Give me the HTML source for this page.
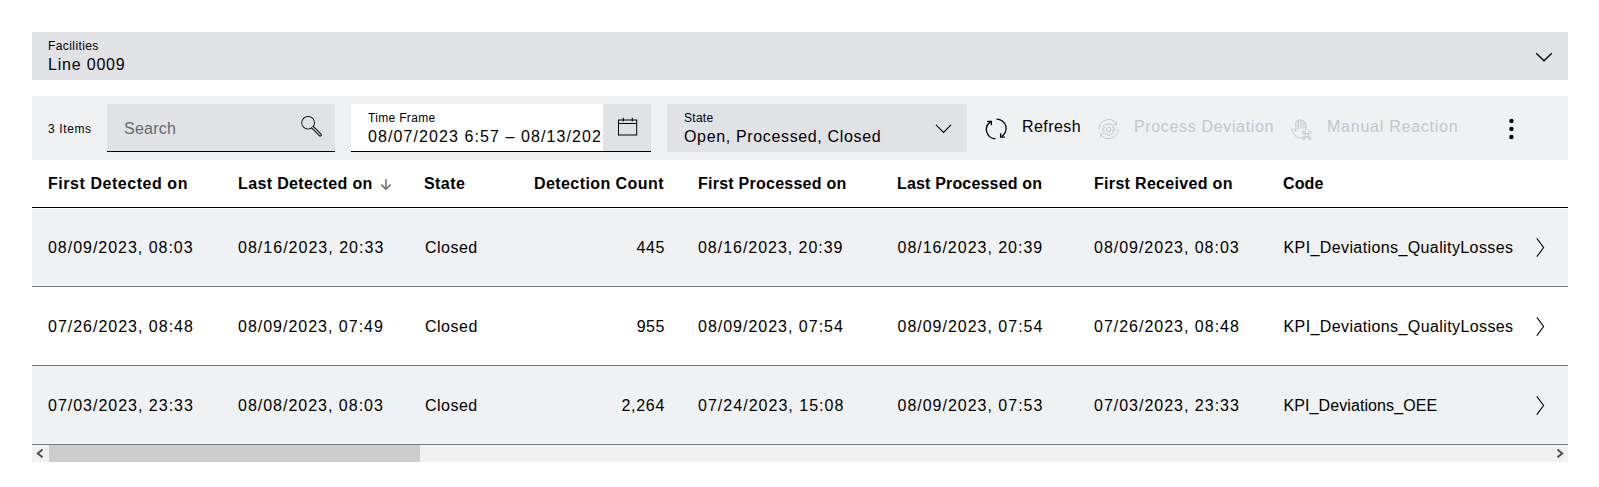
<!DOCTYPE html>
<html><head><meta charset="utf-8">
<style>
*{box-sizing:border-box;margin:0;padding:0}
html,body{width:1599px;height:487px;background:#fff;overflow:hidden}
body{position:relative;font-family:"Liberation Sans",Arial,sans-serif;color:#000}
.a{position:absolute}
.t{position:absolute;white-space:nowrap;line-height:1}
.f12{font-size:12px}
.f16{font-size:16px}
.b{font-weight:bold}
.dis{color:#c1c7cc}
</style></head><body>

<!-- Facilities -->
<div class="a" style="left:32px;top:32px;width:1536px;height:48px;background:#e0e2e5"></div>
<div class="t f12" id="fac_l" style="left:48px;top:40px;letter-spacing:0.411px;">Facilities</div>
<div class="t f16" id="fac_v" style="left:48px;top:57px;letter-spacing:0.8px;">Line 0009</div>
<svg class="a" style="left:1530px;top:44px" width="30" height="26" viewBox="0 0 30 26"><polyline points="6.2,9.2 14,16.8 21.8,9.2" fill="none" stroke="#000" stroke-width="1.3"/></svg>

<!-- Toolbar -->
<div class="a" style="left:32px;top:96px;width:1536px;height:64px;background:#eff1f2"></div>
<div class="t f12" id="items" style="left:48px;top:122.5px;letter-spacing:0.617px;">3 Items</div>

<!-- Search -->
<div class="a" style="left:107px;top:104px;width:228px;height:48px;background:#e0e2e5;border-bottom:1px solid #000"></div>
<div class="t f16" id="search" style="left:124px;top:120.6px;color:#656a6f;letter-spacing:0.26px;">Search</div>
<svg class="a" style="left:296px;top:110px" width="30" height="30" viewBox="296 110 30 30">
<circle cx="308.1" cy="122.75" r="6.3" fill="none" stroke="#000" stroke-width="1.1"/>
<path d="M312.7,127.4 L320.2,134.9" stroke="#000" stroke-width="3.3" stroke-linecap="round"/>
<path d="M312.7,127.4 L320.2,134.9" stroke="#e0e2e5" stroke-width="1.3" stroke-linecap="round"/>
<circle cx="308.1" cy="122.75" r="5.75" fill="#e0e2e5"/>
</svg>

<!-- Time frame -->
<div class="a" style="left:351px;top:104px;width:300px;height:48px;background:#fff;border-bottom:1px solid #000"></div>
<div class="t f12" id="tf_l" style="left:368px;top:112.4px;letter-spacing:0.322px;">Time Frame</div>
<div class="a" style="left:368px;top:124px;width:233px;height:24px;overflow:hidden">
<div class="t f16" id="tf_v" style="left:0;top:5.2px;letter-spacing:1.09px;">08/07/2023 6:57 – 08/13/2023 6:57</div>
</div>
<div class="a" style="left:603px;top:104px;width:48px;height:47px;background:#e0e2e5"></div>
<svg class="a" style="left:603px;top:104px" width="48" height="47" viewBox="603 104 48 47" fill="none" stroke="#000" stroke-width="1">
<rect x="618.5" y="120" width="18.2" height="15"/>
<line x1="618.5" y1="123.5" x2="636.8" y2="123.5"/>
<line x1="623.3" y1="117.7" x2="623.3" y2="121.5"/>
<line x1="632.3" y1="117.7" x2="632.3" y2="121.5"/>
</svg>

<!-- State -->
<div class="a" style="left:667px;top:104px;width:300px;height:48px;background:#e0e2e5"></div>
<div class="t f12" id="st_l" style="left:684px;top:111.6px;letter-spacing:0.275px;">State</div>
<div class="t f16" id="st_v" style="left:684px;top:129.4px;letter-spacing:0.65px;">Open, Processed, Closed</div>
<svg class="a" style="left:930px;top:118px" width="26" height="20" viewBox="0 0 26 20"><polyline points="6,6.8 13.5,14.3 21,6.8" fill="none" stroke="#000" stroke-width="1.2"/></svg>

<!-- Refresh -->
<svg class="a" style="left:982px;top:115px" width="28" height="28" viewBox="0 0 28 28">
<path d="M13.5,23.8 A9.3,9.3 0 0 1 8.8,6.6" fill="none" stroke="#000" stroke-width="1.3"/>
<path d="M5.2,6.4 L9.4,6.4 L9.4,10.2" fill="none" stroke="#000" stroke-width="1.3"/>
<path d="M14.5,4.2 A9.3,9.3 0 0 1 19.4,21.6" fill="none" stroke="#000" stroke-width="1.3"/>
<path d="M22.9,22.2 L18.6,22.2 L18.6,18.2" fill="none" stroke="#000" stroke-width="1.3"/>
</svg>
<div class="t f16" id="refresh" style="left:1022px;top:119px;letter-spacing:0.433px;">Refresh</div>

<!-- Process Deviation -->
<svg class="a" style="left:1094px;top:114px" width="30" height="30" viewBox="1094 114 30 30" fill="none" stroke="#c1c7cc" stroke-width="1">
<path d="M1099.05,129.1 A9.5,9.5 0 0 1 1116.33,123.65"/>
<path d="M1116.5,121.2 L1116.5,124.5 L1113.7,124.5"/>
<path d="M1118.05,129.1 A9.5,9.5 0 0 1 1100.77,134.55"/>
<path d="M1103.2,134 L1100.5,134 L1100.5,137.3"/>
<circle cx="1108.45" cy="129.35" r="2.3"/>
<path d="M1106.95,125.00 L1107.20,123.48 L1109.70,123.48 L1109.95,125.00 L1110.47,125.22 L1111.72,124.32 L1113.48,126.08 L1112.58,127.33 L1112.80,127.85 L1114.32,128.10 L1114.32,130.60 L1112.80,130.85 L1112.58,131.37 L1113.48,132.62 L1111.72,134.38 L1110.47,133.48 L1109.95,133.70 L1109.70,135.22 L1107.20,135.22 L1106.95,133.70 L1106.43,133.48 L1105.18,134.38 L1103.42,132.62 L1104.32,131.37 L1104.10,130.85 L1102.58,130.60 L1102.58,128.10 L1104.10,127.85 L1104.32,127.33 L1103.42,126.08 L1105.18,124.32 L1106.43,125.22 Z"/>
</svg>
<div class="t f16 dis" id="procdev" style="left:1134px;top:119.2px;letter-spacing:0.656px;">Process Deviation</div>

<!-- Manual Reaction -->
<svg class="a" style="left:1285px;top:112px" width="30" height="30" viewBox="1285 112 30 30" fill="none" stroke="#c1c7cc" stroke-width="1">
<path d="M1295.9,131.2 L1295.9,122.3 A1.25,1.25 0 0 1 1298.4,122.3 L1298.4,128.6"/>
<path d="M1298.4,128.6 L1298.4,121 A1.4,1.4 0 0 1 1301.2,121 L1301.2,128.6"/>
<path d="M1301.2,121.8 A1.35,1.35 0 0 1 1303.9,121.8 L1303.9,128.6"/>
<path d="M1303.9,123.6 A1,1 0 0 1 1305.9,123.6 L1305.9,130.4"/>
<path d="M1295.9,131.2 L1293.6,129.2 C1292.6,128.4 1291.1,129 1291.5,130.3 L1295.6,136.2 C1296.3,137.2 1297.2,137.9 1298.6,137.9 L1301.8,137.9"/>
<path d="M1305.2,133.7 L1308.5,133.7 L1308.5,136.9 L1305.2,136.9 Z M1305.2,133.7 L1303.9,133.7 A1.3,1.3 0 1 1 1305.2,132.4 Z M1308.5,133.7 L1308.5,132.4 A1.3,1.3 0 1 1 1309.8,133.7 Z M1308.5,136.9 L1309.8,136.9 A1.3,1.3 0 1 1 1308.5,138.2 Z M1305.2,136.9 L1305.2,138.2 A1.3,1.3 0 1 1 1303.9,136.9 Z"/>
</svg>
<div class="t f16 dis" id="manreact" style="left:1327px;top:119.2px;letter-spacing:0.75px;">Manual Reaction</div>

<!-- kebab -->
<svg class="a" style="left:1500px;top:114px" width="24" height="30" viewBox="0 0 24 30" fill="#000">
<circle cx="11.4" cy="6.9" r="2.2"/><circle cx="11.4" cy="14.9" r="2.2"/><circle cx="11.4" cy="23" r="2.2"/>
</svg>

<!-- Table header -->
<div class="t f16 b" id="h1" style="left:48px;top:176px;letter-spacing:0.547px;">First Detected on</div>
<div class="t f16 b" id="h2" style="left:238px;top:176px;letter-spacing:0.36px;">Last Detected on</div>
<svg class="a" style="left:376px;top:176px" width="20" height="18" viewBox="376 176 20 18" fill="none" stroke="#6c6c6c" stroke-width="1.5">
<line x1="385.9" y1="179.2" x2="385.9" y2="188.8"/><polyline points="381.3,184.6 385.9,189.2 390.5,184.6"/>
</svg>
<div class="t f16 b" id="h3" style="left:424px;top:176px;letter-spacing:0.425px;">State</div>
<div class="t f16 b" id="h4" style="right:935px;top:176px;letter-spacing:0.436px;">Detection Count</div>
<div class="t f16 b" id="h5" style="left:698px;top:176px;letter-spacing:0.247px;">First Processed on</div>
<div class="t f16 b" id="h6" style="left:897px;top:176px;letter-spacing:0.169px;">Last Processed on</div>
<div class="t f16 b" id="h7" style="left:1094px;top:176px;letter-spacing:0.319px;">First Received on</div>
<div class="t f16 b" id="h8" style="left:1283px;top:176px;letter-spacing:0.1px;">Code</div>
<div class="a" style="left:32px;top:207px;width:1536px;height:1px;background:#000"></div>

<!-- Rows -->
<div class="a" style="left:32px;top:209px;width:1536px;height:76px;background:#eff1f2"></div>
<div class="a" style="left:32px;top:285px;width:1536px;height:1px;background:#f7f8f9"></div>
<div class="a" style="left:32px;top:286px;width:1536px;height:1px;background:#71767c"></div>
<div class="a" style="left:32px;top:365px;width:1536px;height:1px;background:#71767c"></div>
<div class="a" style="left:32px;top:366px;width:1536px;height:1px;background:#f7f8f9"></div>
<div class="a" style="left:32px;top:367px;width:1536px;height:76px;background:#eff1f2"></div>
<div class="a" style="left:32px;top:443px;width:1536px;height:1px;background:#f7f8f9"></div>
<div class="a" style="left:32px;top:444px;width:1536px;height:1px;background:#71767c"></div>

<div class="t f16" id="r0c0" style="top:240px;left:48px;letter-spacing:0.975px;">08/09/2023, 08:03</div>
<div class="t f16" id="r0c1" style="top:240px;left:238px;letter-spacing:1.019px;">08/16/2023, 20:33</div>
<div class="t f16" id="r0c2" style="top:240px;left:425px;letter-spacing:0.48px;">Closed</div>
<div class="t f16" id="r0c3" style="top:240px;right:934px;letter-spacing:0.6px;">445</div>
<div class="t f16" id="r0c4" style="top:240px;left:698px;letter-spacing:0.969px;">08/16/2023, 20:39</div>
<div class="t f16" id="r0c5" style="top:240px;left:897.5px;letter-spacing:0.981px;">08/16/2023, 20:39</div>
<div class="t f16" id="r0c6" style="top:240px;left:1094px;letter-spacing:0.981px;">08/09/2023, 08:03</div>
<div class="t f16" id="r0c7" style="top:240px;left:1283.5px;letter-spacing:0.396px;">KPI_Deviations_QualityLosses</div>
<svg class="a" style="left:1530px;top:235px" width="20" height="24" viewBox="1530 235 20 24"><polyline points="1536.8,238.3 1543.6,247.5 1536.8,256.7" fill="none" stroke="#000" stroke-width="1.1"/></svg>
<div class="t f16" id="r1c0" style="top:319px;left:48px;letter-spacing:0.99px;">07/26/2023, 08:48</div>
<div class="t f16" id="r1c1" style="top:319px;left:238px;letter-spacing:0.99px;">08/09/2023, 07:49</div>
<div class="t f16" id="r1c2" style="top:319px;left:425px;letter-spacing:0.5px;">Closed</div>
<div class="t f16" id="r1c3" style="top:319px;right:934px;letter-spacing:0.55px;">955</div>
<div class="t f16" id="r1c4" style="top:319px;left:698px;letter-spacing:0.99px;">08/09/2023, 07:54</div>
<div class="t f16" id="r1c5" style="top:319px;left:897.5px;letter-spacing:0.99px;">08/09/2023, 07:54</div>
<div class="t f16" id="r1c6" style="top:319px;left:1094px;letter-spacing:0.99px;">07/26/2023, 08:48</div>
<div class="t f16" id="r1c7" style="top:319px;left:1283.5px;letter-spacing:0.4px;">KPI_Deviations_QualityLosses</div>
<svg class="a" style="left:1530px;top:314px" width="20" height="24" viewBox="1530 314 20 24"><polyline points="1536.8,317.3 1543.6,326.5 1536.8,335.7" fill="none" stroke="#000" stroke-width="1.1"/></svg>
<div class="t f16" id="r2c0" style="top:398px;left:48px;letter-spacing:0.99px;">07/03/2023, 23:33</div>
<div class="t f16" id="r2c1" style="top:398px;left:238px;letter-spacing:0.99px;">08/08/2023, 08:03</div>
<div class="t f16" id="r2c2" style="top:398px;left:425px;letter-spacing:0.49px;">Closed</div>
<div class="t f16" id="r2c3" style="top:398px;right:934px;letter-spacing:0.7px;">2,264</div>
<div class="t f16" id="r2c4" style="top:398px;left:698px;letter-spacing:1.025px;">07/24/2023, 15:08</div>
<div class="t f16" id="r2c5" style="top:398px;left:897.5px;letter-spacing:0.99px;">08/09/2023, 07:53</div>
<div class="t f16" id="r2c6" style="top:398px;left:1094px;letter-spacing:0.99px;">07/03/2023, 23:33</div>
<div class="t f16" id="r2c7" style="top:398px;left:1283.5px;letter-spacing:0.09px;">KPI_Deviations_OEE</div>
<svg class="a" style="left:1530px;top:393px" width="20" height="24" viewBox="1530 393 20 24"><polyline points="1536.8,396.3 1543.6,405.5 1536.8,414.7" fill="none" stroke="#000" stroke-width="1.1"/></svg>

<!-- scrollbar -->
<div class="a" style="left:32px;top:445px;width:1536px;height:17px;background:#f1f1f1"></div>
<div class="a" style="left:49px;top:445px;width:371px;height:17px;background:#cdcdcd"></div>
<svg class="a" style="left:32px;top:445px" width="17" height="17" viewBox="0 0 17 17"><polyline points="10.5,4.5 5.8,8.4 10.5,12.3" fill="none" stroke="#505050" stroke-width="2"/></svg>
<svg class="a" style="left:1551px;top:445px" width="17" height="17" viewBox="0 0 17 17"><polyline points="6.5,4.5 11.2,8.4 6.5,12.3" fill="none" stroke="#505050" stroke-width="2"/></svg>

</body></html>
